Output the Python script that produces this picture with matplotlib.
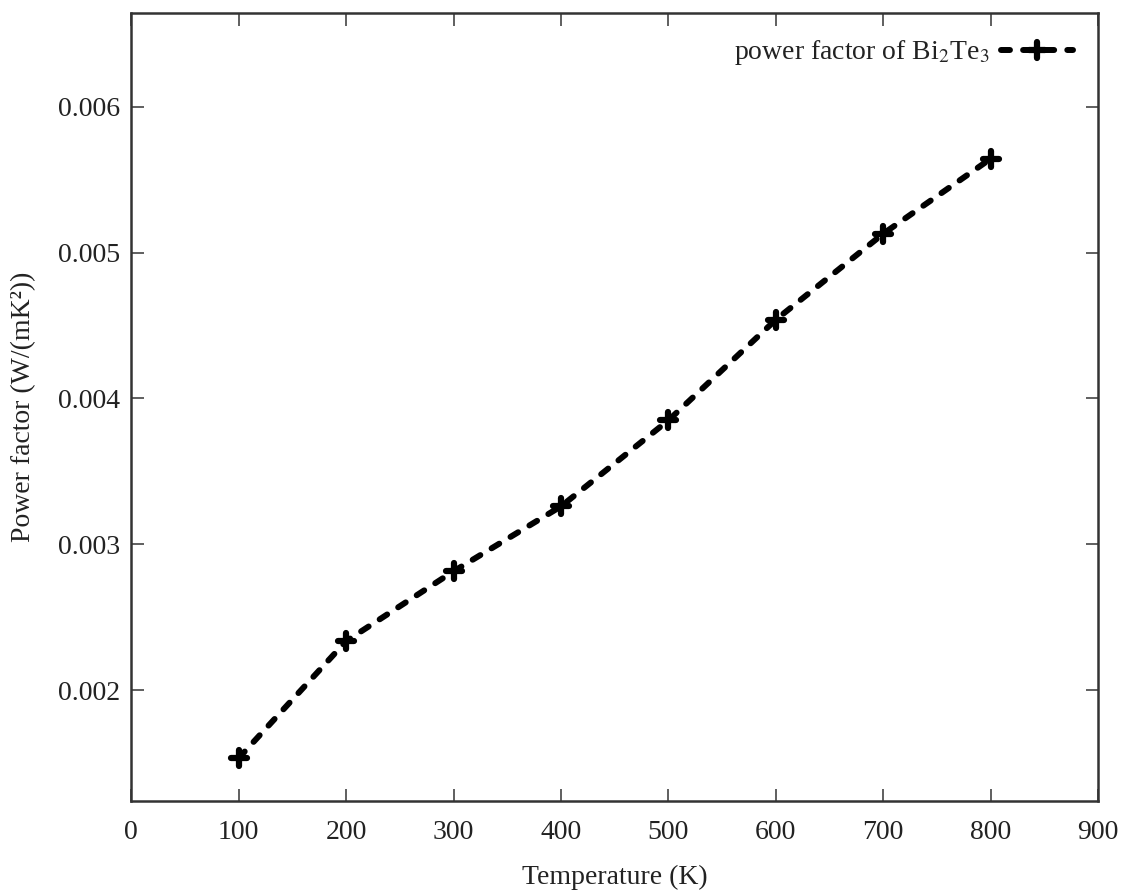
import matplotlib.pyplot as plt
from matplotlib.markers import MarkerStyle

# Data
temperature = [100, 200, 300, 400, 500, 600, 700, 800]
power_factor = [0.001534, 0.002336, 0.002815, 0.00326, 0.00385, 0.00454, 0.00513, 0.005644]

x_ticks = [0, 100, 200, 300, 400, 500, 600, 700, 800, 900]
y_ticks = [0.002, 0.003, 0.004, 0.005, 0.006]
y_labels = ['0.002', '0.003', '0.004', '0.005', '0.006']

plt.rcParams['font.family'] = ['Liberation Serif', 'DejaVu Serif']
plt.rcParams['mathtext.fontset'] = 'stix'

fig, ax = plt.subplots(figsize=(11.31, 8.93), dpi=100)
fig.subplots_adjust(left=0.116, right=0.971, top=0.985, bottom=0.103)

plus = MarkerStyle('+', capstyle='round')
ax.plot(temperature, power_factor, color='black', linestyle=(0, (1.5, 2.2)), linewidth=4.3,
        dash_capstyle='round', marker=plus, markersize=11, markeredgewidth=4.5,
        label=r'power factor of Bi$_2$Te$_3$')

ax.set_xlim(0, 900)
ax.set_ylim(0.00124, 0.00664)
ax.set_xticks(x_ticks)
ax.set_yticks(y_ticks)
ax.set_yticklabels(y_labels)

ax.tick_params(direction='in', top=True, right=True, length=9, width=1.2,
               labelsize=20, color='#444444', labelcolor='#222222')
ax.tick_params(axis='x', pad=14)
ax.tick_params(axis='y', pad=8)
for s in ax.spines.values():
    s.set_linewidth(1.8)
    s.set_color('#333333')

ax.set_xlabel('Temperature (K)', fontsize=20, labelpad=14, color='#222222')
ax.set_ylabel('Power factor (W/(mK²))', fontsize=20, labelpad=16, color='#222222')

ax.legend(loc='upper right', frameon=False, fontsize=20, markerfirst=False,
          handlelength=2.6, handletextpad=0.4, labelcolor='#222222')

plt.savefig('out.png')
